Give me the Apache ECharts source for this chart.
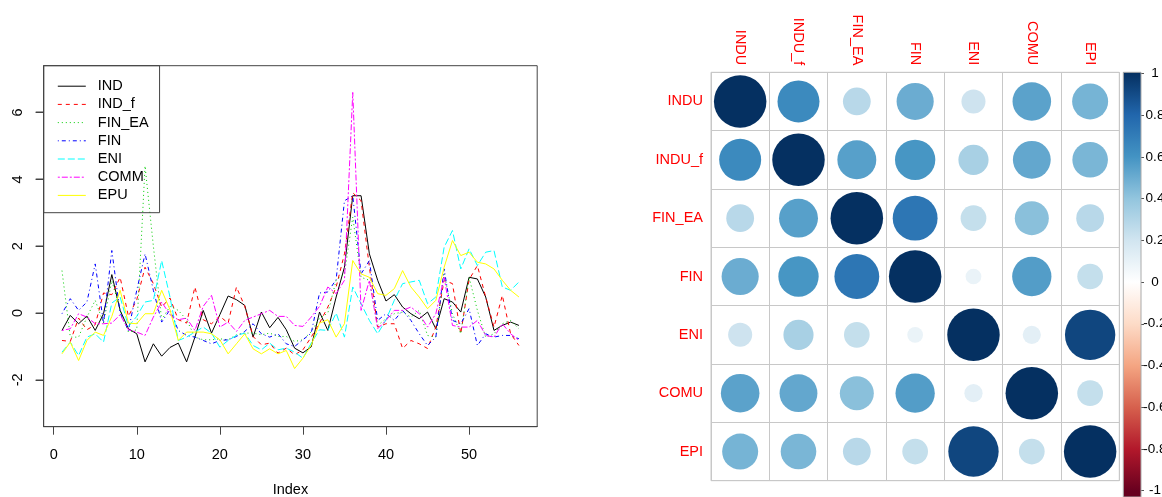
<!DOCTYPE html>
<html>
<head>
<meta charset="utf-8">
<script src="https://cdn.jsdelivr.net/npm/echarts/dist/echarts.min.js"></script>
<style>
html,body{margin:0;padding:0;background:#fff;}
#main{width:1162px;height:497px;}
</style>
</head>
<body>
<div id="main"></div>
<script>
// ---------- Data: time series (index 1..56) ----------
const IND    = [-0.52,-0.07,-0.32,-0.09,-0.52,-0.02,1.15,0.08,-0.47,-0.62,-1.46,-0.92,-1.29,-1.03,-0.9,-1.46,-0.72,0.08,-0.6,-0.05,0.51,0.4,0.23,-0.72,0.03,-0.44,-0.13,-0.5,-1.05,-1.19,-1.01,0.03,-0.52,0.48,1.37,3.51,3.51,1.77,0.98,0.36,0.55,0.18,-0.02,-0.17,0.03,-0.47,0.43,0.33,0.03,1.07,1.02,0.48,-0.52,-0.37,-0.27,-0.37];
const IND_f  = [-0.82,-0.85,-0.15,-0.5,-0.35,0.6,0.55,1.07,-0.1,0.4,1.37,0.88,0.18,0.45,-0.2,-0.3,0.78,-0.2,-0.32,-0.1,-0.3,0.78,0.2,-0.7,-0.95,-0.9,-1.2,-1.05,-1.25,-1.1,-0.72,-0.3,0.18,0.78,1.77,3.6,3.36,1.37,-0.42,-0.32,-0.32,-1.06,-0.82,-0.92,-1.06,-0.42,0.98,0.88,-0.62,1.0,1.42,0.48,-0.42,0.53,-0.62,-0.97];
const FIN_EA = [1.27,-0.72,-0.72,-0.12,0.38,-0.3,0.97,0.1,-0.57,-0.5,4.4,2.0,-0.2,0.2,0.08,-0.2,-0.72,-0.8,-0.8,-0.77,-0.8,-0.65,-0.6,-0.6,-0.65,-0.6,-0.7,-0.7,-0.85,-0.8,-0.56,-0.16,0.0,0.98,1.17,2.87,1.07,0.98,-0.37,-0.17,-0.02,0.03,-0.12,0.08,-0.67,-0.72,1.17,-0.02,-0.62,1.07,0.08,-0.72,-0.62,-0.32,-0.22,-0.47];
const FIN    = [-0.02,0.43,0.08,0.33,1.47,-0.3,1.87,0.0,-0.52,0.68,1.77,0.68,-0.27,0.1,-0.52,-0.67,-0.72,-0.82,-0.92,-0.82,-0.8,-0.7,-0.55,-0.32,-0.62,-0.72,-0.62,-0.92,-1.0,-0.8,-0.6,0.6,0.63,1.0,3.36,3.51,1.17,1.57,-0.22,-0.02,-0.22,0.08,-0.22,-0.62,-0.97,-0.72,1.32,-0.22,-0.32,0.13,-0.97,-0.62,-0.72,-0.67,-0.67,-0.77];
const ENI    = [-1.17,-0.87,-1.27,-0.72,-0.62,-0.87,0.3,0.48,-0.4,-0.1,0.33,0.38,1.57,0.48,-0.82,-0.72,-0.57,-0.42,-0.6,-1.02,-0.82,-0.67,-0.6,-0.97,-1.1,-0.9,-1.1,-1.05,-1.17,-1.35,-0.9,-0.5,-0.52,0.0,-0.72,0.78,0.28,-0.22,-0.62,-0.2,0.38,0.88,0.93,0.98,0.28,0.48,1.97,2.47,1.32,1.92,1.42,1.82,1.87,0.78,0.68,0.93];
const COMM   = [-0.52,-0.47,-0.02,-0.12,-0.32,-0.32,-0.3,-0.05,-0.5,-0.57,-0.67,-0.12,0.33,-0.05,-0.2,-0.15,-0.52,0.2,0.53,-0.42,-0.27,-0.55,-0.22,-0.12,-0.02,0.08,-0.1,-0.1,-0.37,-0.4,-0.12,0.2,0.78,0.58,0.98,6.6,0.08,0.98,-0.47,-0.22,0.08,0.08,0.18,-0.02,-0.42,-0.02,1.07,-0.37,-0.42,-0.42,-0.22,-0.67,-0.72,-0.32,-0.62,-0.82];
const EPU    = [-1.22,-0.87,-1.42,-0.82,-0.57,-0.67,-0.1,0.68,-0.3,-0.32,-0.02,-0.02,0.68,0.1,-0.82,-0.57,-0.57,-0.57,-0.62,-0.8,-1.22,-0.92,-0.62,-1.07,-1.22,-1.07,-1.22,-1.12,-1.66,-1.35,-0.96,-0.3,-0.2,-0.72,-0.32,1.57,1.17,1.07,0.58,0.53,0.73,1.27,0.78,0.48,0.13,0.38,1.37,2.17,1.72,1.82,1.52,1.47,1.32,0.98,0.68,0.48];

const seriesNames = ['IND','IND_f','FIN_EA','FIN','ENI','COMM','EPU'];
const seriesData  = [IND, IND_f, FIN_EA, FIN, ENI, COMM, EPU];
const seriesColors = ['#000000','#FF0000','#00CD00','#0000FF','#00FFFF','#FF00FF','#FFFF00'];
const seriesDash   = ['solid',[4,4],[1,3],[1,3,4,3],[7,3],[2,2,6,2],'solid'];

const xTicks = [0,10,20,30,40,50];
const yTicks = [-2,0,2,4,6];
const xRange = [-1.2, 58.2];
const yRange = [-3.4, 7.4];

// ---------- Data: correlation matrix ----------
const corrLabels = ['INDU','INDU_f','FIN_EA','FIN','ENI','COMU','EPI'];
const corrRows = [
  [1.00,0.64,0.28,0.50,0.21,0.54,0.47],
  [0.64,1.00,0.55,0.59,0.33,0.52,0.46],
  [0.28,0.55,1.00,0.73,0.24,0.42,0.28],
  [0.50,0.59,0.73,1.00,0.09,0.56,0.24],
  [0.21,0.33,0.24,0.09,1.00,0.12,0.92],
  [0.54,0.52,0.42,0.56,0.12,1.00,0.24],
  [0.47,0.46,0.28,0.24,0.92,0.24,1.00]
];
const colorBarTicks = [-1,-0.8,-0.6,-0.4,-0.2,0,0.2,0.4,0.6,0.8,1];
const colorBarExtent = [-1.03, 1.005];
const rdbu = ['#67001F','#B2182B','#D6604D','#F4A582','#FDDBC7','#FFFFFF','#D1E5F0','#92C5DE','#4393C3','#2166AC','#053061'];

// ---------- Build ----------
const FONT = '"Liberation Sans", Arial, Helvetica, sans-serif';
const CELL = 408.3 / 7;

const lineSeries = seriesNames.map((name, k) => ({
  name: name,
  type: 'line',
  xAxisIndex: 0, yAxisIndex: 0,
  symbol: 'none',
  animation: false,
  color: seriesColors[k],
  lineStyle: { color: seriesColors[k], width: 1, type: seriesDash[k] },
  data: seriesData[k].map((v, i) => [i + 1, v])
}));

const corrData = [];
corrRows.forEach((row, r) => row.forEach((v, c) => corrData.push([c, r, v])));

const option = {
  backgroundColor: '#fff',
  animation: false,
  textStyle: { fontFamily: FONT },
  grid: [
    { left: 43.7, top: 65.7, width: 493.5, height: 361, show: true, borderColor: '#444', borderWidth: 1, backgroundColor: 'transparent', outerBoundsMode: 'none', containLabel: false },
    { left: 711, top: 72.3, width: 408.3, height: 408.4, show: true, borderColor: '#C8C8C8', borderWidth: 1, outerBoundsMode: 'none', containLabel: false },
    { left: 1123.3, top: 72.3, width: 17.7, height: 424.7, show: false, outerBoundsMode: 'none', containLabel: false }
  ],
  legend: {
    orient: 'vertical',
    left: 43.7, top: 65.7,
    padding: [13, 11, 9.8, 13.6],
    itemWidth: 28, itemHeight: 14, itemGap: 3.2,
    borderColor: '#444', borderWidth: 1, backgroundColor: 'transparent',
    itemStyle: { opacity: 0, borderWidth: 0 },
    lineStyle: { width: 1 },
    textStyle: { fontSize: 14.5, color: '#000', fontFamily: FONT, padding: [0,0,0,7], lineHeight: 14 },
    data: seriesNames
  },
  xAxis: [
    {
      gridIndex: 0, type: 'value', min: xRange[0], max: xRange[1],
      axisLine: { show: true, onZero: false, lineStyle: { color: '#444', width: 1 } },
      splitLine: { show: false },
      axisTick: { show: true, inside: false, length: 8, lineStyle: { color: '#444' }, customValues: xTicks },
      axisLabel: { fontSize: 14.5, color: '#000', margin: 21, customValues: xTicks, fontFamily: FONT },
      name: 'Index', nameLocation: 'middle', nameGap: 56,
      nameTextStyle: { fontSize: 14.5, color: '#000', fontFamily: FONT }
    },
    {
      gridIndex: 1, type: 'category', position: 'top', data: corrLabels,
      axisLine: { show: false }, axisTick: { show: false },
      splitLine: { show: true, interval: 0, lineStyle: { color: '#C8C8C8', width: 1 } },
      axisLabel: { rotate: 90, color: '#FF0000', fontSize: 14.5, margin: 7, interval: 0, fontFamily: FONT }
    },
    { gridIndex: 2, type: 'value', min: 0, max: 1, show: false }
  ],
  yAxis: [
    {
      gridIndex: 0, type: 'value', min: yRange[0], max: yRange[1],
      axisLine: { show: true, onZero: false, lineStyle: { color: '#444', width: 1 } },
      splitLine: { show: false },
      axisTick: { show: true, inside: false, length: 8, lineStyle: { color: '#444', width: 1 }, customValues: yTicks },
      axisLabel: { rotate: 90, fontSize: 14.5, color: '#000', margin: 18, customValues: yTicks, fontFamily: FONT }
    },
    {
      gridIndex: 1, type: 'category', inverse: true, data: corrLabels,
      axisLine: { show: false }, axisTick: { show: false },
      splitLine: { show: true, interval: 0, lineStyle: { color: '#C8C8C8', width: 1 } },
      axisLabel: { color: '#FF0000', fontSize: 14.5, margin: 8, interval: 0, fontFamily: FONT }
    },
    {
      gridIndex: 2, type: 'value', position: 'right',
      min: colorBarExtent[0], max: colorBarExtent[1],
      axisLine: { show: false, onZero: false }, splitLine: { show: false },
      axisTick: { show: true, length: 3, lineStyle: { color: '#555' }, customValues: colorBarTicks },
      axisLabel: { fontSize: 13.5, color: '#000', margin: 14, align: 'center', customValues: colorBarTicks, fontFamily: FONT }
    }
  ],
  visualMap: [{
    type: 'continuous', show: false, min: -1, max: 1, dimension: 2,
    seriesIndex: 7, inRange: { color: rdbu }
  }],
  series: lineSeries.concat([
    {
      name: 'corr', type: 'scatter', xAxisIndex: 1, yAxisIndex: 1,
      symbol: 'circle',
      symbolSize: (val) => CELL * 0.9 * Math.sqrt(Math.abs(val[2])),
      itemStyle: { opacity: 1 },
      data: corrData,
      silent: true
    },
    {
      name: 'colorbar', type: 'custom', xAxisIndex: 2, yAxisIndex: 2,
      silent: true,
      data: [[0, colorBarExtent[0], colorBarExtent[1]]],
      renderItem: function (params, api) {
        const pTop = api.coord([0, api.value(2)]);
        const pBot = api.coord([1, api.value(1)]);
        const h = pBot[1] - pTop[1];
        const stops = [];
        const n = rdbu.length;
        for (let i = 0; i < n; i++) {
          const v = 1 - 2 * i / (n - 1);
          const y = api.coord([0, v])[1];
          stops.push({ offset: Math.min(1, Math.max(0, (y - pTop[1]) / h)), color: rdbu[n - 1 - i] });
        }
        return {
          type: 'rect',
          shape: { x: pTop[0], y: pTop[1], width: pBot[0] - pTop[0], height: h },
          style: {
            fill: new echarts.graphic.LinearGradient(0, 0, 0, 1, stops),
            stroke: '#AAAAAA', lineWidth: 1
          }
        };
      }
    },
    {
      name: 'yticks', type: 'custom', xAxisIndex: 0, yAxisIndex: 0,
      silent: true, clip: false, z: 20,
      data: yTicks.map(v => [xRange[0], v]),
      renderItem: function (params, api) {
        const p = api.coord([api.value(0), api.value(1)]);
        return {
          type: 'rect',
          z2: 100,
          shape: { x: p[0] - 8, y: Math.round(p[1]) - 0.5, width: 8, height: 1.2 },
          style: { fill: '#444', stroke: null }
        };
      }
    }
  ])
};

const chart = echarts.init(document.getElementById('main'), null, { renderer: 'canvas' });
chart.setOption(option);
</script>
</body>
</html>
